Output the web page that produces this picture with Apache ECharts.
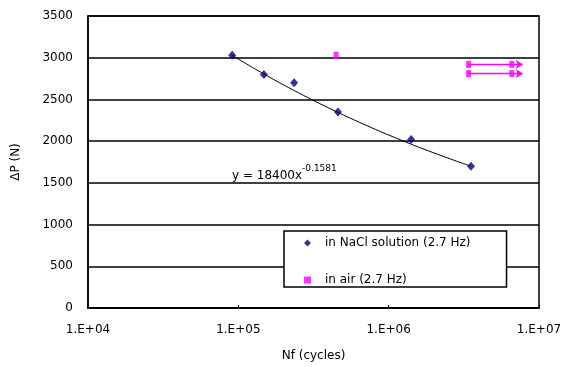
<!DOCTYPE html>
<html>
<head>
<meta charset="utf-8">
<script src="https://cdn.jsdelivr.net/npm/echarts@6/dist/echarts.min.js"></script>
<style>
  html, body { margin: 0; padding: 0; background: #fff; }
  #chart { width: 575px; height: 367px; }
</style>
</head>
<body>
<div id="chart"></div>
<script>
// data
var naclCycles = [9.1e4, 1.48e5, 2.35e5, 4.6e5, 1.41e6, 3.53e6]
var naclLoad = [3030, 2800, 2700, 2350, 2020, 1700]

var airCycles = [4.47e5, 3.4e6, 3.4e6, 6.6e6, 6.6e6]
var airLoad = [3030, 2920, 2810, 2920, 2810]

// run-out arrows (in air)
var runoutStart = 3.4e6
var runoutTip = 7.8e6
var runoutLoad = [2920, 2810]

// trend line points (power fit shown in the chart)
var trendCycles = [9e4, 1.5e5, 2.5e5, 4e5, 7e5, 1.2e6, 2e6, 3.5e6]
var trendLoad = [3034, 2799, 2582, 2397, 2194, 2015, 1859, 1701]

var yTicks = [0, 500, 1000, 1500, 2000, 2500, 3000, 3500]
var xLabels = {4: '1.E+04', 5: '1.E+05', 6: '1.E+06', 7: '1.E+07'}

var FONT = 'DejaVu Sans'

function pairs(xs, ys) {
  return xs.map(function (x, i) { return [x, ys[i]] })
}

var runoutSeries = runoutLoad.map(function (v) {
  return {
    type: 'line',
    silent: true,
    data: [
      {value: [runoutStart, v], symbol: 'none'},
      {value: [runoutTip, v], symbol: 'arrow', symbolRotate: -90, symbolSize: [7, 7]}
    ],
    lineStyle: {color: '#ff00ff', width: 1.5},
    itemStyle: {color: '#ff00ff'},
    z: 3
  }
})

var myChart = echarts.init(document.getElementById('chart'), null, {renderer: 'canvas'})

var option = {
  backgroundColor: '#fff',
  animation: false,
  textStyle: {fontFamily: FONT},
  grid: {
    left: 88,
    right: 36,
    top: 16,
    bottom: 54,
    show: true,
    borderColor: '#000',
    borderWidth: 1.5,
    containLabel: false
  },
  xAxis: {
    type: 'log',
    logBase: 10,
    min: 1e4,
    max: 1e7,
    name: 'Nf (cycles)',
    nameLocation: 'middle',
    nameGap: 42,
    nameTextStyle: {color: '#000', fontSize: 12, fontFamily: FONT},
    axisLine: {lineStyle: {color: '#000', width: 1.5}},
    axisTick: {show: true, inside: true, length: 3, lineStyle: {color: '#000'}},
    minorTick: {show: false},
    splitLine: {show: false},
    axisLabel: {
      color: '#000',
      fontSize: 12,
      fontFamily: FONT,
      margin: 16,
      formatter: function (v) {
        var e = Math.round(Math.log10(v))
        return xLabels[e] || ''
      }
    }
  },
  yAxis: {
    type: 'value',
    min: yTicks[0],
    max: yTicks[yTicks.length - 1],
    interval: 500,
    name: 'ΔP (N)',
    nameLocation: 'middle',
    nameGap: 66,
    nameTextStyle: {color: '#000', fontSize: 12, fontFamily: FONT},
    axisLine: {show: true, lineStyle: {color: '#000', width: 1.5}},
    axisTick: {show: false},
    splitLine: {show: true, lineStyle: {color: '#000', width: 1.5}},
    axisLabel: {
      color: '#000',
      fontSize: 12,
      fontFamily: FONT,
      margin: 15,
      formatter: function (v) { return String(v) }
    }
  },
  legend: {
    left: 284,
    top: 231,
    orient: 'vertical',
    data: [
      {name: 'in NaCl solution (2.7 Hz)', icon: 'diamond'},
      {name: 'in air (2.7 Hz)', icon: 'rect'}
    ],
    backgroundColor: '#fff',
    borderColor: '#000',
    borderWidth: 1.5,
    borderRadius: 0,
    padding: [6, 36, 1, 20],
    itemWidth: 7,
    itemHeight: 7,
    itemGap: 25,
    textStyle: {color: '#000', fontSize: 12, fontFamily: FONT, padding: [0, 0, 0, 9]}
  },
  graphic: [{
    type: 'text',
    left: 232,
    top: 164,
    z: 10,
    style: {
      text: '{a|y = 18400x}{b|-0.1581}',
      rich: {
        a: {fontSize: 12, fontFamily: FONT, fill: '#000', padding: [8, 0, 0, 0]},
        b: {fontSize: 9, fontFamily: FONT, fill: '#000', padding: [0, 0, 6, 0]}
      }
    }
  }],
  series: [{
    name: 'trend',
    type: 'line',
    silent: true,
    smooth: true,
    symbol: 'none',
    data: pairs(trendCycles, trendLoad),
    lineStyle: {color: '#000', width: 1},
    z: 2
  }, {
    name: 'in NaCl solution (2.7 Hz)',
    type: 'scatter',
    symbol: 'diamond',
    symbolSize: [8, 9],
    itemStyle: {color: '#000080'},
    data: pairs(naclCycles, naclLoad),
    z: 4
  }, {
    name: 'in air (2.7 Hz)',
    type: 'scatter',
    symbol: 'rect',
    symbolSize: [5, 7],
    itemStyle: {color: '#ff00ff'},
    data: pairs(airCycles, airLoad),
    z: 4
  }].concat(runoutSeries)
}

myChart.setOption(option)
</script>
</body>
</html>
